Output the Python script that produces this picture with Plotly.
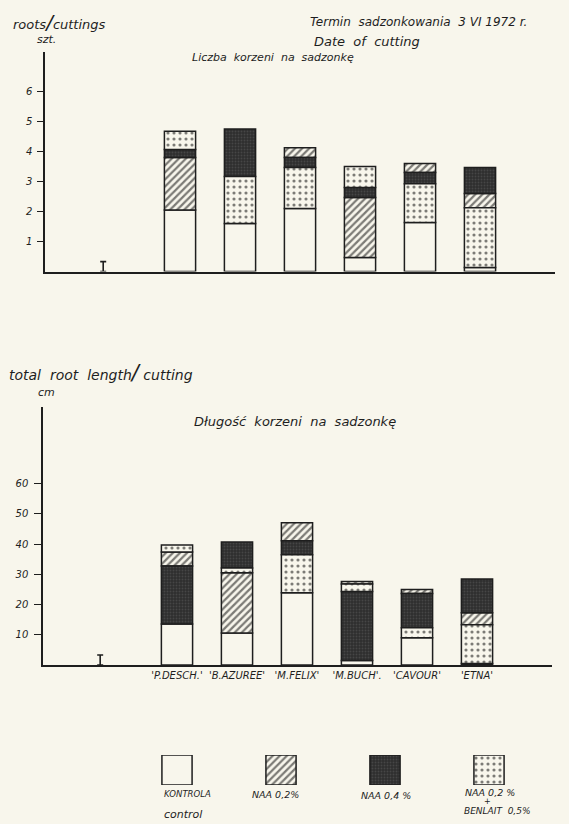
import plotly.graph_objects as go

# ---- data -----------------------------------------------------------------
cultivars = ["'P.DESCH.'", "'B.AZUREE'", "'M.FELIX'", "'M.BUCH'.", "'CAVOUR'", "'ETNA'"]
treatments = ["KONTROLA", "NAA 0,2%", "NAA 0,4%", "NAA 0,2% + BENLAIT 0,5%"]

# number of roots per cutting (szt.), one value per treatment
roots_control = [2.05, 1.60, 2.10, 0.47, 1.63, 0.13]
roots_naa02 = [3.80, 1.60, 4.13, 2.47, 3.60, 2.60]
roots_naa04 = [4.07, 4.75, 3.80, 2.80, 3.30, 3.47]
roots_naa02_benlait = [4.68, 3.17, 3.47, 3.50, 2.93, 2.13]
roots_lsd = 0.33

# total root length per cutting (cm), one value per treatment
length_control = [13.6, 10.6, 23.9, 1.5, 9.0, 0.5]
length_naa02 = [37.4, 30.5, 47.1, 27.6, 25.0, 17.3]
length_naa04 = [32.8, 40.7, 41.1, 24.3, 23.7, 28.5]
length_naa02_benlait = [39.7, 32.1, 36.5, 26.8, 12.3, 13.3]
length_lsd = 3.3

roots_ticks = [1, 2, 3, 4, 5, 6]
length_ticks = [10, 20, 30, 40, 50, 60]

# ---- styling ----------------------------------------------------------------
W, H = 569, 824
BG = "#f8f6ec"
INK = "#1e1e1e"
FONT = "DejaVu Sans"


def fx(px):
    return px / W


def fy(px):
    return 1 - px / H


styles = [
    dict(color=BG),
    dict(color=BG, pattern=dict(shape="/", bgcolor=BG, fgcolor="#000000", size=5, solidity=0.45)),
    dict(color="#333333", pattern=dict(shape=".", bgcolor="#2e2e2e", fgcolor="#5e5e5e",
                                       size=3, solidity=0.3)),
    dict(color=BG, pattern=dict(shape=".", bgcolor=BG, fgcolor="#000000", size=6, solidity=0.22)),
]


def segments(values):
    """Each treatment's bar is drawn behind the lower ones, so the visible part
    of a treatment runs from the next lower value up to its own value."""
    n = len(values[0])
    bases = [[0] * n for _ in values]
    heights = [[None] * n for _ in values]
    for i in range(n):
        order = sorted(range(len(values)), key=lambda k: values[k][i])
        prev = 0.0
        for k in order:
            v = values[k][i]
            if v - prev > 1e-9:
                bases[k][i] = prev
                heights[k][i] = v - prev
                prev = v
    return bases, heights


positions = list(range(len(cultivars)))
lsd_pos = -1.28
bar_w = 0.52

fig = go.Figure()


def add_panel(values, lsd, xa, ya):
    bases, heights = segments(values)
    for k in range(len(values)):
        fig.add_trace(go.Bar(
            x=positions, y=heights[k], base=bases[k], width=bar_w,
            marker=dict(line=dict(color=INK, width=1.5), **styles[k]),
            xaxis=xa, yaxis=ya, showlegend=False, hoverinfo="skip",
        ))
    # least significant difference marker
    fig.add_trace(go.Scatter(
        x=[lsd_pos], y=[lsd / 2], mode="markers", marker=dict(size=1, color=INK, opacity=0),
        error_y=dict(type="data", array=[lsd / 2], color=INK, thickness=1.6, width=3),
        xaxis=xa, yaxis=ya, showlegend=False, hoverinfo="skip",
    ))


add_panel([roots_control, roots_naa02, roots_naa04, roots_naa02_benlait], roots_lsd, "x", "y")
add_panel([length_control, length_naa02, length_naa04, length_naa02_benlait], length_lsd, "x2", "y2")

# legend swatches
for k, t in enumerate(treatments):
    fig.add_trace(go.Bar(
        x=[t], y=[1], width=0.29,
        marker=dict(line=dict(color=INK, width=1.5), **styles[k]),
        xaxis="x3", yaxis="y3", showlegend=False, hoverinfo="skip",
    ))

tick_font = dict(family=FONT, size=10, color=INK, style="italic")
axis_common = dict(showgrid=False, zeroline=False, showline=True, linecolor=INK, linewidth=1.5)

fig.update_layout(
    width=W, height=H,
    margin=dict(l=0, r=0, t=0, b=0),
    paper_bgcolor=BG, plot_bgcolor=BG,
    barmode="overlay",
    xaxis=dict(domain=[fx(45), fx(555)], range=[-2.25, 6.25], showticklabels=False,
               ticks="", anchor="y", **axis_common),
    yaxis=dict(domain=[fy(271.5), fy(52)], range=[0, 7.32], tickvals=roots_ticks,
               ticks="outside", ticklen=6, tickwidth=1.3, tickcolor=INK, tickfont=tick_font,
               ticklabelstandoff=3, anchor="x", **axis_common),
    xaxis2=dict(domain=[fx(43), fx(552)], range=[-2.233, 6.25], tickvals=positions,
                ticktext=cultivars, ticks="", tickfont=dict(family=FONT, size=10, color=INK,
                                                              style="italic"),
                anchor="y2", **axis_common),
    yaxis2=dict(domain=[fy(665), fy(407)], range=[0, 85.4], tickvals=length_ticks,
                ticks="outside", ticklen=7, tickwidth=1.3, tickcolor=INK, tickfont=tick_font,
                ticklabelstandoff=4, anchor="x2", **axis_common),
    xaxis3=dict(domain=[fx(125), fx(541)], type="category", visible=False, anchor="y3"),
    yaxis3=dict(domain=[fy(785), fy(755)], range=[0, 1], visible=False, anchor="x3"),
)


def note(text, x, y, size=11, xanchor="left"):
    fig.add_annotation(text=text, x=fx(x), y=fy(y), xref="paper", yref="paper",
                       xanchor=xanchor, yanchor="middle", showarrow=False,
                       font=dict(family=FONT, size=size, color=INK, style="italic"))


note("roots<span style='font-size:20px'>/</span>cuttings", 11, 22, 13)
note("szt.", 35, 40, 11)
note("Termin  sadzonkowania  3 VI 1972 r.", 308, 22, 12)
note("Date  of  cutting", 312, 41, 13)
note("Liczba  korzeni  na  sadzonkę", 190, 58, 11)

note("total  root  length<span style='font-size:21px'>/</span> cutting", 7, 373, 14)
note("cm", 36, 393, 11)
note("Długość  korzeni  na  sadzonkę", 192, 421, 13)

note("KONTROLA", 162, 794, 8.5)
note("control", 162, 814, 11)
note("NAA 0,2%", 275, 794, 9.5, "center")
note("NAA 0,4 %", 386, 795, 9.5, "center")
note("NAA 0,2 %", 490, 792, 9.5, "center")
note("+", 487, 801, 8, "center")
note("BENLAIT  0,5%", 497, 811, 9, "center")

fig.write_html("out.html")
